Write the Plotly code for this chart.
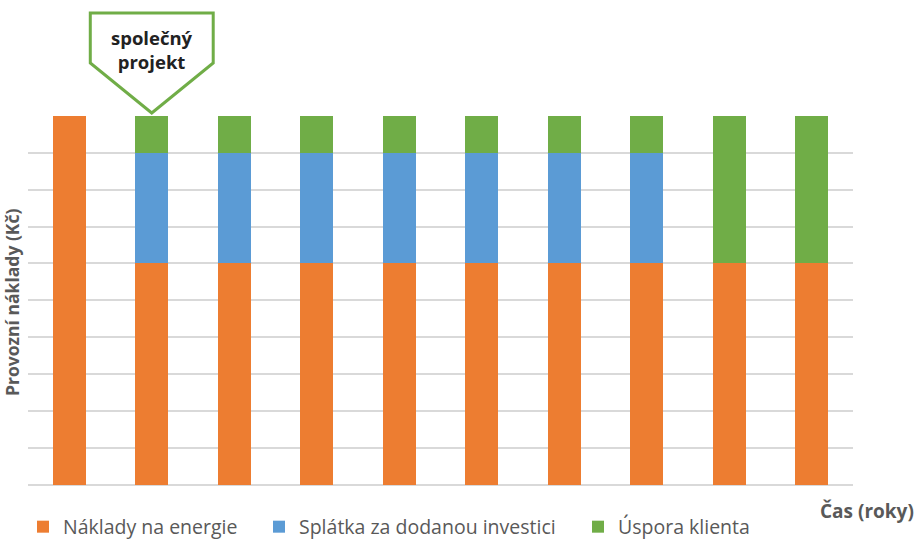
import plotly.graph_objects as go

years = list(range(1, 11))
naklady = [10, 6, 6, 6, 6, 6, 6, 6, 6, 6]
splatka = [0, 3, 3, 3, 3, 3, 3, 3, 0, 0]
uspora = [0, 1, 1, 1, 1, 1, 1, 1, 4, 4]
series_names = ["Náklady na energie", "Splátka za dodanou investici", "Úspora klienta"]
colors = ["#ED7D31", "#5B9BD5", "#70AD47"]

W, H = 921, 539
L, R, T, B = 28, 68, 115, 54
PW, PH = W - L - R, H - T - B
FONT = "Open Sans"
XR = [0.5, 10.5]
YR = [0, 10.02]

def px(xd):  # data x -> paper
    return (xd - XR[0]) / (XR[1] - XR[0])

def py(pixel_y):  # screen pixel y -> paper
    return (H - B - pixel_y) / PH

legend_ids = ["legend", "legend2", "legend3"]
legend_x = [23, 259, 578]

fig = go.Figure()
for name, vals, col, lid in zip(series_names, [naklady, splatka, uspora], colors, legend_ids):
    fig.add_trace(go.Bar(x=years, y=vals, name=name, legend=lid,
                         marker=dict(color=col, line=dict(width=0))))

# callout pointing at bar of year 2
tx = 2
hw = 0.745 / (XR[1] - XR[0])
cx = px(tx)
path = (f"M {cx-hw},{py(13)} L {cx+hw},{py(13)} L {cx+hw},{py(63)} "
        f"L {cx},{py(113)} L {cx-hw},{py(63)} Z")
fig.add_shape(type="path", path=path, xref="paper", yref="paper",
              line=dict(color="#70AD47", width=3), fillcolor="white", layer="above")
fig.add_annotation(x=cx, y=py(49), xref="paper", yref="paper", text="<b>společný<br>projekt</b>",
                   xanchor="center", yanchor="middle",
                   showarrow=False, font=dict(family=FONT, size=18.5, color="#222222"))

fig.add_annotation(xref="paper", yref="paper", x=(12 - L) / PW, y=py(303),
                   text="<b>Provozní náklady (Kč)</b>", textangle=-90, showarrow=False,
                   font=dict(family=FONT, size=17.5, color="#595959"),
                   xanchor="center", yanchor="middle")
fig.add_annotation(xref="paper", yref="paper", x=(867 - L) / PW, y=py(511),
                   text="<b>Čas (roky)</b>", showarrow=False, xanchor="center", yanchor="middle",
                   font=dict(family=FONT, size=19, color="#595959"))

leg_common = dict(orientation="h", xref="container", yref="container", xanchor="left",
                  yanchor="middle", y=(H - 527) / H, itemwidth=30,
                  font=dict(family=FONT, size=19.5, color="#595959"),
                  bgcolor="rgba(0,0,0,0)")

fig.update_layout(
    width=W, height=H, margin=dict(l=L, r=R, t=T, b=B, autoexpand=False),
    barmode="stack", bargap=0.6,
    plot_bgcolor="white", paper_bgcolor="white",
    font=dict(family=FONT, size=16, color="#595959"),
    showlegend=True,
    legend=dict(x=legend_x[0] / W, **leg_common),
    legend2=dict(x=legend_x[1] / W, **leg_common),
    legend3=dict(x=legend_x[2] / W, **leg_common),
    xaxis=dict(range=XR, showticklabels=False, showgrid=False, zeroline=False,
               showline=False, ticks=""),
    yaxis=dict(range=YR, dtick=1, showticklabels=False, showgrid=True,
               gridcolor="#D9D9D9", gridwidth=1.5, zeroline=True, zerolinecolor="#D9D9D9",
               zerolinewidth=1.5, showline=False, ticks=""),
)
fig.write_html("out.html")
